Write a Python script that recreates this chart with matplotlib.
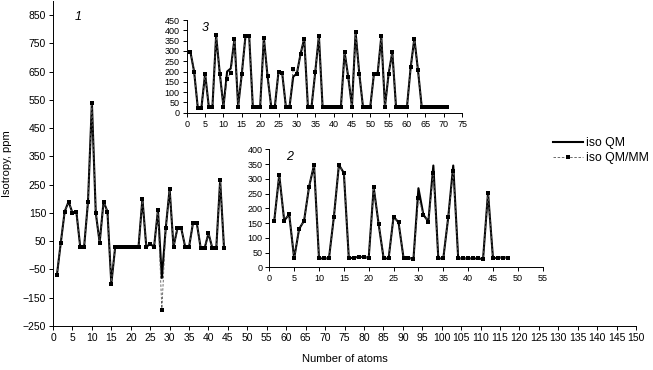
import matplotlib
matplotlib.use("Agg")
import matplotlib.pyplot as plt
import numpy as np

plt.rcParams['font.family'] = ['Liberation Sans', 'DejaVu Sans']

# --- data: main chart (1) ---
atoms_1 = list(range(1, 45))
qm_1 = [-70, 45, 155, 190, 150, 155, 30, 30, 190, 540,
        150, 45, 190, 155, -100, 30, 30, 30, 28, 30,
        30, 30, 200, 30, 40, 30, 160, -80, 95, 235,
        30, 95, 95, 30, 30, 113, 113, 25, 25, 78,
        25, 25, 265, 25]
qmmm_1 = list(qm_1)
qmmm_1[27] = -195

# --- inset 2 ---
atoms_2 = list(range(1, 49))
qm_2 = [158, 313, 158, 180, 30, 130, 158, 273, 347, 30,
        30, 30, 172, 347, 320, 30, 33, 35, 35, 32,
        271, 146, 30, 30, 172, 152, 32, 32, 28, 268,
        178, 155, 345, 30, 30, 170, 345, 30, 30, 30,
        30, 30, 28, 253, 30, 33, 33, 33]
qmmm_2 = list(qm_2)
qmmm_2[29] = 235
qmmm_2[32] = 320
qmmm_2[36] = 325

# --- inset 3 ---
atoms_3 = list(range(1, 72))
qm_3 = [295, 200, 25, 25, 190, 30, 30, 375, 190, 30,
        200, 215, 360, 30, 190, 373, 373, 30, 30, 30,
        365, 178, 30, 30, 200, 192, 30, 30, 175, 190,
        285, 360, 30, 30, 197, 373, 30, 30, 30, 30,
        30, 30, 295, 172, 30, 390, 190, 30, 30, 30,
        190, 190, 370, 30, 190, 295, 30, 30, 30, 30,
        220, 360, 205, 30, 30, 30, 30, 30, 30, 30, 30]
qmmm_3 = list(qm_3)
qmmm_3[10] = 165
qmmm_3[11] = 195
qmmm_3[28] = 213


def draw_series(ax, x, qm, qmmm):
    l1, = ax.plot(x, qm, color="black", lw=1.5, zorder=2)
    l2, = ax.plot(x, qmmm, color="#555555", lw=0.6, ls=(0, (3, 2)),
                  marker="s", ms=2.6, mew=0, mfc="black",
                  zorder=3)
    return l1, l2


def style_axes(ax, fs):
    for s in ("top", "right"):
        ax.spines[s].set_visible(False)
    ax.spines["left"].set_linewidth(0.7)
    ax.spines["bottom"].set_linewidth(0.7)
    ax.tick_params(direction="out", length=3, width=0.7, labelsize=fs, pad=2)
    ax.patch.set_alpha(0)


fig = plt.figure(figsize=(6.53, 3.70), dpi=100)

# main axes
ax = fig.add_axes([0.0812, 0.1189, 0.8928, 0.8787])
h1, h2 = draw_series(ax, atoms_1, qm_1, qmmm_1)
ax.set_xlim(0, 150)
ax.set_ylim(-250, 900)
ax.set_xticks(np.arange(0, 151, 5))
ax.set_yticks(np.arange(-250, 851, 100))
style_axes(ax, 7.5)
ax.set_xlabel("Number of atoms", fontsize=8, labelpad=8)
ax.set_ylabel("Isotropy, ppm", fontsize=8, labelpad=8)
ax.text(6.4, 843, "1", fontsize=9, style="italic", ha="center", va="center")

ax.legend([h1, h2], ["iso QM", "iso QM/MM"], loc="upper left",
          bbox_to_anchor=(0.858, 0.58), frameon=False, fontsize=8.8,
          handlelength=2.4, handletextpad=0.3, labelspacing=0.2,
          borderaxespad=0, borderpad=0)

# inset 3
ax3 = fig.add_axes([0.286, 0.6954, 0.4216, 0.2505])
draw_series(ax3, atoms_3, qm_3, qmmm_3)
ax3.set_xlim(0, 75)
ax3.set_ylim(0, 450)
ax3.set_xticks(np.arange(0, 76, 5))
ax3.set_yticks(np.arange(0, 451, 50))
style_axes(ax3, 6.5)
ax3.text(5, 410, "3", fontsize=9, style="italic", ha="center", va="center")

# inset 2
ax2 = fig.add_axes([0.4124, 0.2776, 0.4187, 0.3189])
draw_series(ax2, atoms_2, qm_2, qmmm_2)
ax2.set_xlim(0, 55)
ax2.set_ylim(0, 400)
ax2.set_xticks(np.arange(0, 56, 5))
ax2.set_yticks(np.arange(0, 401, 50))
style_axes(ax2, 6.5)
ax2.text(4, 375, "2", fontsize=9, style="italic", ha="center", va="center")

fig.savefig("out.png", dpi=100)
